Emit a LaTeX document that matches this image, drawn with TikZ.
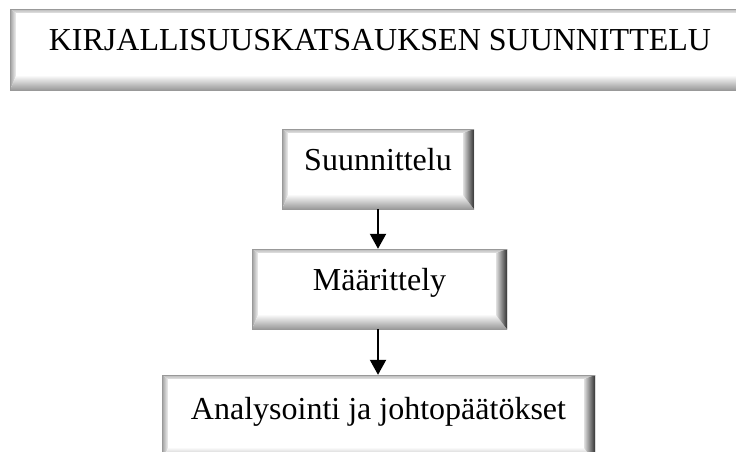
\documentclass[tikz,border=0pt]{standalone}
\usepackage{fontspec}
\setmainfont{Liberation Serif}
\usetikzlibrary{arrows.meta,calc}

\tikzset{
  % raised box with a bevelled frame: thin light top/left, heavy dark bottom/right
  bevelbox/.style={
    rectangle, inner sep=0pt, anchor=center,
    font=\fontsize{32pt}{38pt}\selectfont,
    text height=22pt, text depth=20pt,
    path picture={
      \coordinate (pNW) at (path picture bounding box.north west);
      \coordinate (pNE) at (path picture bounding box.north east);
      \coordinate (pSW) at (path picture bounding box.south west);
      \coordinate (pSE) at (path picture bounding box.south east);
      \coordinate (iNW) at ([shift={(6pt,-4pt)}]pNW);
      \coordinate (iNE) at ([shift={(-11pt,-4pt)}]pNE);
      \coordinate (iSW) at ([shift={(6pt,14pt)}]pSW);
      \coordinate (iSE) at ([shift={(-11pt,14pt)}]pSE);
      \shade[top color=gray!55, bottom color=gray!20]
        (pNW) -- (pNE) -- (iNE) -- (iNW) -- cycle;
      \shade[left color=gray!75, right color=gray!10]
        (pNW) -- (iNW) -- (iSW) -- (pSW) -- cycle;
      \shade[top color=gray!5, bottom color=gray!80]
        (iSW) -- (iSE) -- (pSE) -- (pSW) -- cycle;
      \shade[left color=gray!25, right color=black!80]
        (iNE) -- (pNE) -- (pSE) -- (iSE) -- cycle;
      \fill[white] (iNW) rectangle (iSE);
      \draw[gray!80, line width=1pt] (pNW) rectangle (pSE);
    }
  },
  flow/.style={line width=2pt, -{Triangle[length=15pt,width=16pt]}}
}

\begin{document}
\begin{tikzpicture}[x=1pt,y=-1pt]
  \useasboundingbox (0,0) rectangle (736,451);
  \fill[white] (0,0) rectangle (736,451);

  \node[bevelbox, minimum width=740pt, minimum height=81pt] (title) at (380,49.5)
    {KIRJALLISUUSKATSAUKSEN SUUNNITTELU};

  \node[bevelbox, minimum width=192pt, minimum height=80pt] (plan) at (378,169)
    {Suunnittelu};

  \node[bevelbox, minimum width=255pt, minimum height=80pt] (define) at (379.5,289)
    {Määrittely};

  \node[bevelbox, minimum width=433pt, minimum height=87pt] (analyse) at (378.5,418.5)
    {Analysointi ja johtopäätökset};

  \draw[flow] (plan.south) -- (plan.south |- define.north);
  \draw[flow] (define.south -| plan.south) -- (plan.south |- analyse.north);
\end{tikzpicture}
\end{document}
